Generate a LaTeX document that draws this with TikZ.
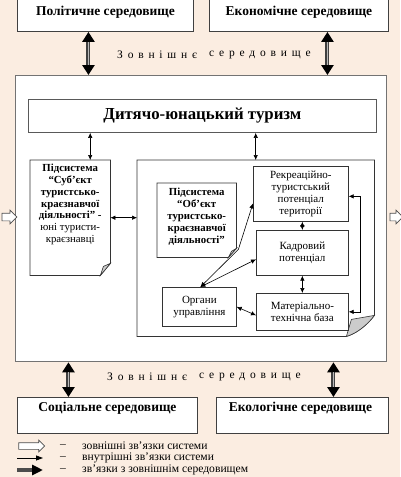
\documentclass[tikz,border=0pt]{standalone}
\usepackage{fontspec}
\setmainfont{Liberation Serif}
\usetikzlibrary{arrows.meta,shapes.arrows,calc}
\definecolor{bg}{RGB}{251,237,225}
\newcommand\fsz[2]{\fontsize{#1}{#2}\selectfont}
\newcommand\spcd[1]{\spcdi#1\relax}
\def\spcdi#1{\ifx#1\relax\else#1\kern4.8pt\expandafter\spcdi\fi}
\tikzset{
  envbox/.style={draw=black!75, line width=0.9pt, fill=white, inner sep=0pt, anchor=north west},
  envtxt/.style={font=\bfseries\fsz{13.5}{15}, inner sep=0pt},
  plainbox/.style={draw=black!80, line width=0.7pt, fill=white, inner sep=1pt, align=center, anchor=north west, font=\fsz{11}{11.8}},
  shapeonly/.style={inner sep=0pt, anchor=north west},
  docline/.style={draw=black!80, line width=0.7pt, fill=white},
  flap/.style={draw=black!80, line width=0.6pt, fill=gray!40},
  doctxt/.style={align=center, inner sep=0pt, font=\bfseries\fsz{10.8}{11.8}},
  inarr/.style={line width=0.6pt, {Latex[length=5pt,width=4.5pt]}-{Latex[length=5pt,width=4.5pt]}},
  extarr/.style={line width=4pt, draw=black!75,
    {Triangle[length=10pt,width=12pt,color=black]}-{Triangle[length=10pt,width=12pt,color=black]},
    postaction={draw=gray!55, line width=1.8pt, arrows=-, shorten <=10pt, shorten >=10pt}},
  hollow/.style={single arrow, draw=black!70, line width=0.7pt, fill=white, inner xsep=0pt,
    single arrow head indent=0pt},
  spctxt/.style={font=\fsz{11.5}{14}, anchor=west, inner sep=0pt},
  legtxt/.style={font=\fsz{11.6}{12}, anchor=west, inner sep=0pt},
}
\begin{document}
\begin{tikzpicture}[x=1pt,y=-1pt]
\fill[bg] (0,0) rectangle (400,477);
\useasboundingbox (0,0) rectangle (400,477);

% environment boxes
\node[envbox, minimum width=176pt, minimum height=32pt] (pol) at (17,-1) {};
\node[envtxt] (polt) at ([yshift=-13pt]pol.north) {Політичне середовище};
\node[envbox, minimum width=179pt, minimum height=32pt] (eco) at (209,-1) {};
\node[envtxt] (ecot) at ([yshift=-13pt]eco.north) {Економічне середовище};
\node[envbox, minimum width=180pt, minimum height=36pt] (soc) at (17,397) {};
\node[envtxt] (soct) at ([yshift=-11pt]soc.north) {Соціальне середовище};
\node[envbox, minimum width=172pt, minimum height=36pt] (ekl) at (216,397) {};
\node[envtxt] (eklt) at ([yshift=-11pt,xshift=-2pt]ekl.north) {Екологічне середовище};

% main system box
\node[draw=black!55, line width=1.3pt, fill=white, minimum width=371pt, minimum height=286pt, inner sep=0pt, anchor=north west] (main) at (15,75) {};

% spaced labels
\node[spctxt] (z1) at (117,55) {\spcd{Зовнішнє}};
\node[spctxt] (z2) at (209,55) {\spcd{середовище}};
\node[spctxt] (z3) at (107,377) {\spcd{Зовнішнє}};
\node[spctxt] (z4) at (199,377) {\spcd{середовище}};

% external thick arrows
\draw[extarr] ([xshift=-17pt]pol.south) -- ([xshift=-17pt]pol.south |- main.north);
\draw[extarr] ([xshift=28.5pt]eco.south) -- ([xshift=28.5pt]eco.south |- main.north);
\draw[extarr] ([xshift=-39pt]soc.north |- main.south) -- ([xshift=-39pt]soc.north);
\draw[extarr] ([xshift=31pt]ekl.north |- main.south) -- ([xshift=31pt]ekl.north);

% hollow external arrows
\node[hollow, minimum height=15pt, minimum width=13pt, inner ysep=3.5pt, single arrow head extend=3pt] (hin) at (7.5,217) {};
\node[hollow, minimum height=13pt, minimum width=13pt, inner ysep=3.5pt, single arrow head extend=3pt] (hout) at (394.5,217) {};

% top subsystem
\node[draw=black!65, line width=0.9pt, fill=white, minimum width=348pt, minimum height=33pt, anchor=north west, inner sep=0pt, font=\bfseries\fsz{16.8}{18}] (dit) at (28,99) {Дитячо-юнацький туризм};

% subject subsystem (document shape)
\node[shapeonly, minimum width=80pt, minimum height=115pt] (sub1) at (30,160) {};
\draw[docline] (sub1.north west) -- (sub1.north east) -- ([yshift=12pt]sub1.south east) -- ([xshift=-10pt]sub1.south east) -- (sub1.south west) -- cycle;
\draw[flap] ([yshift=12pt]sub1.south east) -- ([xshift=-10pt]sub1.south east) -- ([xshift=-7pt,yshift=9pt]sub1.south east) -- cycle;
\node[doctxt, anchor=north] (sub1t) at ([yshift=-4pt]sub1.north) {Підсистема\\“Суб’єкт\\туристсько-\\краєзнавчої\\діяльності” -\\\mdseries юні туристи-\\\mdseries краєзнавці};

% object system (document shape with curl)
\node[shapeonly, minimum width=237pt, minimum height=176pt] (sys) at (137,160) {};
\draw[docline] (sys.north west) -- (sys.north east) -- ([yshift=21pt]sys.south east)
  .. controls ([xshift=-8pt,yshift=10pt]sys.south east) and ([xshift=-20pt,yshift=2pt]sys.south east) .. ([xshift=-28pt]sys.south east)
  -- (sys.south west) -- cycle;
\draw[flap] ([xshift=-28pt]sys.south east) .. controls ([xshift=-26pt,yshift=8pt]sys.south east) .. ([xshift=-23pt,yshift=17pt]sys.south east)
  -- ([yshift=21pt]sys.south east)
  .. controls ([xshift=-8pt,yshift=10pt]sys.south east) and ([xshift=-20pt,yshift=2pt]sys.south east) .. ([xshift=-28pt]sys.south east) -- cycle;

% object subsystem (document shape)
\node[shapeonly, minimum width=79pt, minimum height=74pt] (sub2) at (157,183) {};
\draw[docline] (sub2.north west) -- (sub2.north east) -- ([yshift=9pt]sub2.south east) -- ([xshift=-8pt]sub2.south east) -- (sub2.south west) -- cycle;
\draw[flap] ([yshift=9pt]sub2.south east) -- ([xshift=-8pt]sub2.south east) -- ([xshift=-5pt,yshift=6pt]sub2.south east) -- cycle;
\node[doctxt] (sub2t) at ([yshift=3.5pt]sub2.center) {Підсистема\\“Об’єкт\\туристсько-\\краєзнавчої\\діяльності”};

% inner boxes
\node[plainbox, minimum width=95pt, minimum height=55pt] (rek) at (253,166) {Рекреаційно-\\туристський\\потенціал\\території};
\node[plainbox, minimum width=92pt, minimum height=45pt] (kad) at (256,230) {Кадровий\\потенціал};
\node[plainbox, minimum width=92pt, minimum height=37pt] (mat) at (256,293) {Матеріально-\\технічна база};
\node[plainbox, minimum width=74pt, minimum height=39pt] (org) at (162,287) {Органи\\управління};
\coordinate (bend) at ([xshift=2pt,yshift=8pt]sub2.south east);

% internal arrows
\draw[inarr] ([xshift=20pt]sub1.north) -- ([xshift=20pt]sub1.north |- dit.south);
\draw[inarr] (sys.north) -- (sys.north |- dit.south);
\draw[inarr] (sub1.east) -- (sys.west |- sub1.east);
\draw[inarr] (kad.north) -- (kad.north |- rek.south);
\draw[inarr] (mat.north) -- (kad.south);
\draw[inarr] (org.east) -- ([yshift=-3.5pt]mat.west);
\draw[inarr] ([xshift=1pt]org.north) -- ([yshift=-6.5pt]kad.west);
\draw[inarr] ([xshift=1pt]org.north) -- (bend) -- ([yshift=-9.5pt]rek.west);
\draw[inarr] ([yshift=-2.5pt]rek.east) -- ++(12pt,0) |- (mat.east);

% legend
\node[hollow, minimum height=26pt, minimum width=11pt, inner ysep=3pt, single arrow head extend=2.5pt] (lg1) at (30,446) {};
\coordinate (l2a) at (17,458); \coordinate (l2b) at (43,458);
\coordinate (l3a) at (17,470); \coordinate (l3b) at (43,470);
\draw[line width=0.8pt, -{Triangle[length=7pt,width=5pt]}] (l2a) -- (l2b);
\draw[line width=4pt, draw=black!70, -{Triangle[length=11pt,width=10pt,color=black]}] (l3a) -- (l3b);
\node[legtxt] (d1) at (60,446) {–};
\node[legtxt] (d2) at (60,458) {–};
\node[legtxt] (d3) at (60,470) {–};
\node[legtxt] (t1) at (82,446) {зовнішні зв’язки системи};
\node[legtxt] (t2) at (82,458) {внутрішні зв’язки системи};
\node[legtxt] (t3) at (82,470) {зв’язки з зовнішнім середовищем};
\end{tikzpicture}
\end{document}
